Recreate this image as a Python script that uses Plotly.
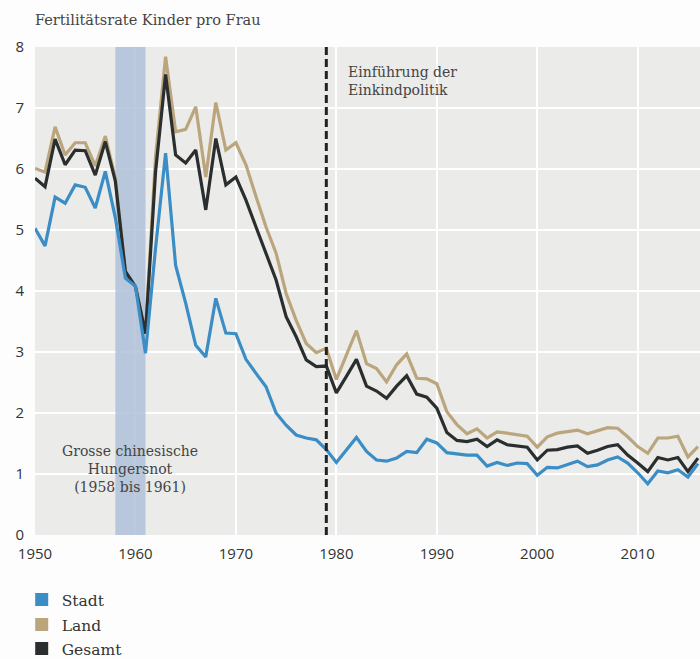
import plotly.graph_objects as go

years = list(range(1950, 2017))

stadt = [5.03, 4.74, 5.54, 5.44, 5.74, 5.70, 5.36, 5.96, 5.20, 4.21,
         4.08, 2.98, 4.70, 6.26, 4.42, 3.80, 3.11, 2.92, 3.88, 3.31,
         3.30, 2.88, 2.65, 2.43, 2.00, 1.80, 1.64, 1.59, 1.56, 1.40,
         1.19, 1.40, 1.60, 1.37, 1.23, 1.21, 1.26, 1.37, 1.35, 1.57,
         1.51, 1.35, 1.33, 1.31, 1.31, 1.13, 1.19, 1.14, 1.18, 1.17,
         0.98, 1.11, 1.10, 1.15, 1.21, 1.12, 1.15, 1.23, 1.28, 1.18,
         1.02, 0.84, 1.05, 1.02, 1.07, 0.95, 1.17]

land = [6.01, 5.95, 6.69, 6.23, 6.43, 6.43, 6.05, 6.54, 5.85, 4.30,
        4.07, 3.32, 6.20, 7.84, 6.61, 6.65, 7.02, 5.87, 7.09, 6.31,
        6.43, 6.07, 5.55, 5.05, 4.62, 3.96, 3.52, 3.14, 2.99, 3.06,
        2.55, 2.95, 3.35, 2.81, 2.73, 2.51, 2.79, 2.97, 2.57, 2.56,
        2.48, 2.02, 1.81, 1.66, 1.74, 1.59, 1.69, 1.67, 1.64, 1.62,
        1.44, 1.61, 1.67, 1.69, 1.72, 1.66, 1.71, 1.76, 1.75, 1.61,
        1.45, 1.34, 1.59, 1.59, 1.62, 1.28, 1.45]

gesamt = [5.85, 5.71, 6.49, 6.07, 6.31, 6.30, 5.90, 6.45, 5.80, 4.32,
          4.07, 3.30, 5.95, 7.55, 6.23, 6.10, 6.31, 5.33, 6.50, 5.74,
          5.87, 5.49, 5.05, 4.62, 4.18, 3.58, 3.25, 2.87, 2.76, 2.77,
          2.33, 2.60, 2.88, 2.44, 2.36, 2.24, 2.44, 2.61, 2.31, 2.26,
          2.08, 1.68, 1.55, 1.53, 1.57, 1.45, 1.56, 1.48, 1.46, 1.44,
          1.23, 1.39, 1.40, 1.44, 1.46, 1.34, 1.39, 1.45, 1.48, 1.31,
          1.18, 1.04, 1.27, 1.23, 1.27, 1.04, 1.26]

series_names = ["Stadt", "Land", "Gesamt"]
series_colors = ["#3a8dc5", "#bba57c", "#2b2e2e"]
x_ticks = [1950, 1960, 1970, 1980, 1990, 2000, 2010]
y_ticks = [0, 1, 2, 3, 4, 5, 6, 7, 8]
famine_start, famine_end = 1958, 1961
policy_year = 1979

SERIF = "DejaVu Serif"
SANS = "Open Sans"

fig = go.Figure()

data = {"Stadt": stadt, "Land": land, "Gesamt": gesamt}
for name in ["Land", "Gesamt", "Stadt"]:
    c = series_colors[series_names.index(name)]
    fig.add_trace(go.Scatter(x=years, y=data[name], mode="lines", name=name,
                             line=dict(color=c, width=3.2), showlegend=False,
                             hoverinfo="skip"))

legend_ids = ["legend", "legend2", "legend3"]
for name, c, lid in zip(series_names, series_colors, legend_ids):
    fig.add_trace(go.Scatter(x=[None], y=[None], mode="markers", name=name,
                             marker=dict(symbol="square", size=13, color=c),
                             showlegend=True, legend=lid))

fig.add_shape(type="rect", xref="x", yref="y", x0=famine_start, x1=famine_end,
              y0=0, y1=8, fillcolor="rgba(172,190,216,0.82)", line_width=0,
              layer="between")
fig.add_shape(type="line", xref="x", yref="y", x0=policy_year, x1=policy_year,
              y0=0, y1=8, line=dict(color="#222222", width=3, dash="8px,4px"),
              layer="above")

fig.add_annotation(x=policy_year + 2, y=7.44, xref="x", yref="y",
                   text="Einführung der<br>Einkindpolitik", showarrow=False,
                   xanchor="left", yanchor="middle", align="left",
                   font=dict(family=SERIF, size=14, color="#444444"))
fig.add_annotation(x=(famine_start + famine_end) / 2, y=1.08, xref="x", yref="y",
                   text="Grosse chinesische<br>Hungersnot<br>(1958 bis 1961)",
                   showarrow=False, xanchor="center", yanchor="middle",
                   align="center",
                   font=dict(family=SERIF, size=14, color="#444444"))

legend_style = dict(x=-0.02, xanchor="left", yanchor="middle",
                    orientation="v", bgcolor="rgba(0,0,0,0)",
                    font=dict(family=SERIF, size=15.5, color="#333333"))
plot_top, plot_bottom = 47, 535
legend_px = [600, 625, 649]
legend_cfg = {}
for lid, p in zip(legend_ids, legend_px):
    legend_cfg[lid] = dict(legend_style, y=(plot_bottom - p) / (plot_bottom - plot_top))

fig.update_layout(
    width=700, height=659,
    margin=dict(l=35, r=0, t=47, b=124, autoexpand=False),
    paper_bgcolor="#fdfdfd",
    plot_bgcolor="#ebebea",
    title=dict(text="Fertilitätsrate Kinder pro Frau", x=35 / 700, xanchor="left",
               xref="container", y=1 - 20 / 659, yanchor="middle",
               font=dict(family=SERIF, size=14.5, color="#444444")),
    xaxis=dict(range=[1950, 2016.2], tickvals=x_ticks, showgrid=True,
               gridcolor="#ffffff", gridwidth=2, zeroline=False,
               showline=False, ticks="", automargin=False,
               ticklabelstandoff=8,
               tickfont=dict(family=SANS, size=15, color="#333333")),
    yaxis=dict(range=[0, 8], tickvals=y_ticks, showgrid=True,
               gridcolor="#ffffff", gridwidth=2, zeroline=False,
               showline=False, ticks="", ticklabelstandoff=10, automargin=False,
               tickfont=dict(family=SANS, size=15, color="#333333")),
    **legend_cfg,
)

fig.write_html("out.html", config={"displayModeBar": False},
               post_script="document.body.style.margin='0';document.body.style.padding='0';")
